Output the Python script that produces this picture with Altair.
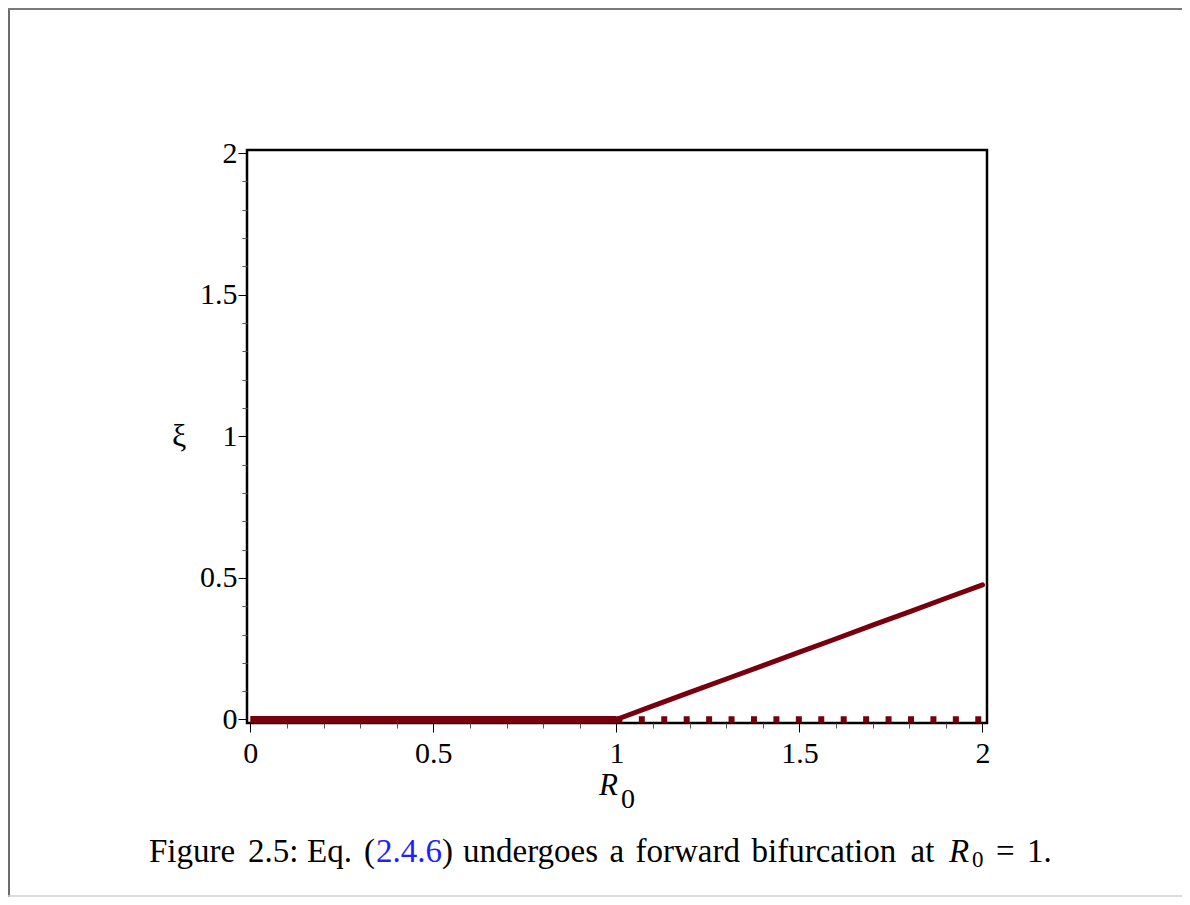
import altair as alt
import pandas as pd

# ---------------- data ----------------
stable_r = [0.0, 1.0]
stable_xi = [0.0, 0.0]

unstable_r = [1.0, 2.0]
unstable_xi = [0.0, 0.0]

branch_r = [1.0, 1.1, 1.2, 1.3, 1.4, 1.5, 1.6, 1.7, 1.8, 1.9, 2.0]
branch_xi = [0.0, 0.048, 0.096, 0.143, 0.190, 0.238, 0.285, 0.333, 0.380, 0.428, 0.475]

major_ticks = [0, 0.5, 1, 1.5, 2]
minor_ticks = [0.1, 0.2, 0.3, 0.4, 0.6, 0.7, 0.8, 0.9,
               1.1, 1.2, 1.3, 1.4, 1.6, 1.7, 1.8, 1.9]

x_title_main = "R"
x_title_sub = "0"
y_title = "ξ"

caption_words = ["Figure", "2.5:", "Eq.", "(", "2.4.6", ")", "undergoes", "a",
                 "forward", "bifurcation", "at", "R", "0", "=", "1."]

# ---------------- styling ----------------
CURVE = "#78000E"
FONT = "Liberation Serif"
W, H = 740, 573
PAD_L, PAD_T = 239, 142
PAD_R = 1174 - PAD_L - W
PAD_B = 889 - PAD_T - H

# page x of each caption word (layout only)
caption_x = [149, 248, 307, 364, 376, 442, 463, 609.5, 635.5, 751.5, 910.5,
             949, 972, 996, 1027]
caption_style = ["normal"] * 11 + ["italic", "normal", "normal", "normal"]
caption_color = ["black"] * 4 + ["#1f1fff"] + ["black"] * 10
caption_size = [33] * 12 + [23, 33, 33]
caption_base = [862] * 12 + [867, 862, 862]

xs = alt.Scale(domain=[-0.009, 2.0123], nice=False, zero=False)
ys = alt.Scale(domain=[-0.0124, 2.0106], nice=False, zero=False)

major_x = alt.Axis(values=major_ticks, orient="bottom", tickSize=9, tickWidth=1,
                   tickColor="black", labelFont=FONT, labelFontSize=30,
                   labelColor="black", labelPadding=6, domain=False, grid=False,
                   title=None, format="~g", labelFlush=False, labelOverlap=False)
minor_x = alt.Axis(values=minor_ticks, orient="bottom", tickSize=5, tickWidth=1,
                   tickColor="#555555", labels=False, domain=False, grid=False,
                   title=None)
major_y = alt.Axis(values=major_ticks, orient="left", tickSize=9, tickWidth=1,
                   tickColor="black", labelFont=FONT, labelFontSize=30,
                   labelColor="black", labelPadding=1, domain=False, grid=False,
                   title=None, format="~g", labelFlush=False, labelOverlap=False)
minor_y = alt.Axis(values=minor_ticks, orient="left", tickSize=5, tickWidth=1,
                   tickColor="#555555", labels=False, domain=False, grid=False,
                   title=None)

df_stable = pd.DataFrame({"R0": stable_r, "xi": stable_xi})
df_unstable = pd.DataFrame({"R0": unstable_r, "xi": unstable_xi})
df_branch = pd.DataFrame({"R0": branch_r, "xi": branch_xi})

stable = alt.Chart(df_stable).mark_line(
    color=CURVE, strokeWidth=7, strokeCap="butt"
).encode(
    x=alt.X("R0:Q", scale=xs, axis=major_x),
    y=alt.Y("xi:Q", scale=ys, axis=major_y),
)

unstable = alt.Chart(df_unstable).mark_line(
    color=CURVE, strokeWidth=6.5, strokeCap="butt", strokeDash=[6, 16.43]
).encode(
    x=alt.X("R0:Q", scale=xs, axis=minor_x),
    y=alt.Y("xi:Q", scale=ys, axis=minor_y),
)

branch = alt.Chart(df_branch).mark_line(
    color=CURVE, strokeWidth=5, strokeCap="round"
).encode(
    x=alt.X("R0:Q", scale=xs, axis=None),
    y=alt.Y("xi:Q", scale=ys, axis=None),
)


def label(text, px, py, size, color="black", style="normal", align="left",
          baseline="alphabetic"):
    return alt.Chart(pd.DataFrame({"t": [text]})).mark_text(
        font=FONT, fontSize=size, color=color, fontStyle=style, align=align,
        baseline=baseline
    ).encode(text="t:N", x=alt.value(px), y=alt.value(py))


ox, oy = PAD_L + 8, PAD_T + 8  # page position of plot origin

texts = [
    label(y_title, 179 - ox, 446 - oy, 32, align="center"),
    label(x_title_main, 599 - ox, 795 - oy, 31, style="italic"),
    label(x_title_sub, 621 - ox, 808 - oy, 28),
]
for w, px, st, col, sz, bl in zip(caption_words, caption_x, caption_style,
                                  caption_color, caption_size, caption_base):
    texts.append(label(w, px - ox, bl - oy, sz, color=col, style=st))

border_left = alt.Chart(pd.DataFrame({"v": [0]})).mark_rule(
    color="#6b6b6b", strokeWidth=2
).encode(x=alt.value(1 - PAD_L), y=alt.value(-PAD_T), y2=alt.value(H + PAD_B))
border_top = alt.Chart(pd.DataFrame({"v": [0]})).mark_rule(
    color="#7a7a7a", strokeWidth=2
).encode(x=alt.value(-PAD_L), x2=alt.value(W + PAD_R), y=alt.value(1 - PAD_T))
border_bottom = alt.Chart(pd.DataFrame({"v": [0]})).mark_rule(
    color="#d0d0d0", strokeWidth=1.5
).encode(x=alt.value(-PAD_L), x2=alt.value(W + PAD_R), y=alt.value(H + PAD_B - 1))

chart = alt.layer(
    stable, unstable, branch, *texts, border_left, border_top, border_bottom
).resolve_axis(
    x="independent", y="independent"
).properties(
    width=W, height=H,
    padding={"left": PAD_L, "top": PAD_T, "right": PAD_R, "bottom": PAD_B},
    autosize=alt.AutoSizeParams(type="none"),
    background="white",
).configure_view(
    stroke="black", strokeWidth=2.5
)

chart.save("out.html", embed_options={"renderer": "svg", "actions": False})
